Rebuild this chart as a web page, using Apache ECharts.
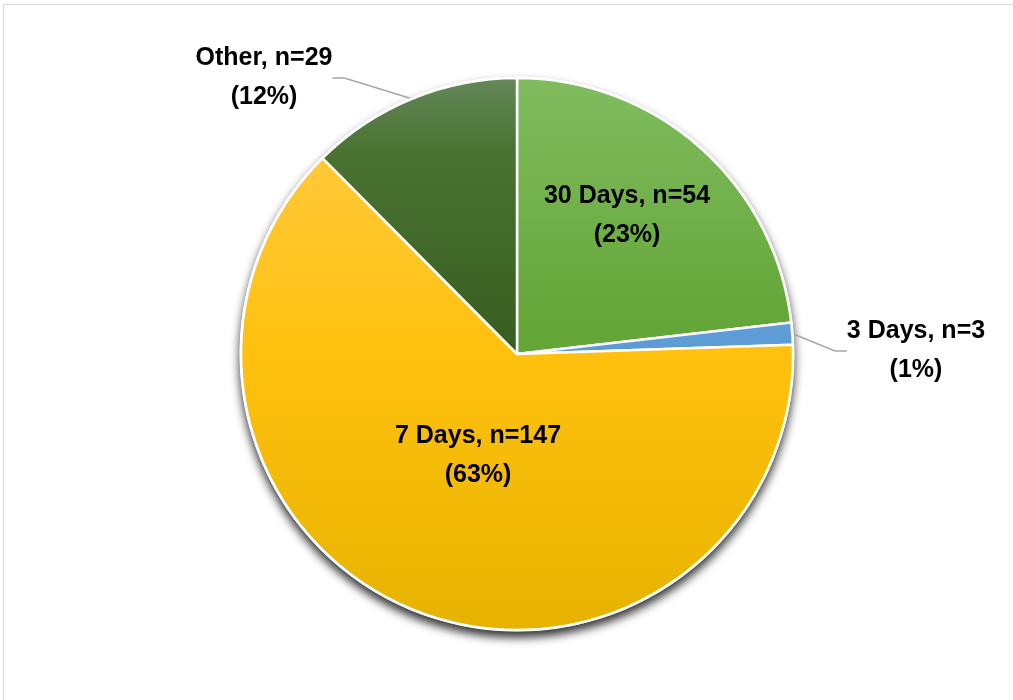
<!DOCTYPE html>
<html>
<head>
<meta charset="utf-8">
<script src="https://cdn.jsdelivr.net/npm/echarts@6/dist/echarts.min.js"></script>
<style>
html,body{margin:0;padding:0;background:#fff;overflow:hidden;}
#wrap{position:relative;width:1013px;height:700px;}
#frame{position:absolute;left:3px;top:4px;width:1030px;height:720px;border:1px solid #d9d9d9;box-sizing:border-box;}
#chart{position:absolute;left:0;top:0;width:1013px;height:700px;}
</style>
</head>
<body>
<div id="wrap"><div id="frame"></div><div id="chart"></div></div>
<script>
const categories = ['30 Days', '3 Days', '7 Days', 'Other'];
const counts = [54, 3, 147, 29];
const total = counts.reduce((a, b) => a + b, 0);

const cx = 517, cy = 354, R = 276;
function grad(stops) {
  return {
    type: 'linear', global: true,
    x: cx, y: cy - R, x2: cx, y2: cy + R,
    colorStops: stops.map(s => ({ offset: s[0], color: s[1] }))
  };
}
const fills = [
  grad([[0, '#80bc5f'], [0.45, '#64a638'], [1, '#5a9a30']]),
  grad([[0, '#7fb3e3'], [0.5, '#5b9bd5'], [1, '#3f86c9']]),
  grad([[0, '#ffcd4a'], [0.5, '#ffc10e'], [1, '#e6b300']]),
  grad([[0, '#65875a'], [0.13, '#4a7332'], [0.5, '#375d1f'], [1, '#335a1c']])
];
const insideIdx = [0, 2];
// label centre positions (layout only)
const labelPos = {0: [627, 216], 1: [916, 351], 2: [478, 456], 3: [264, 78]};

const chart = echarts.init(document.getElementById('chart'), null, { renderer: 'canvas' });
chart.setOption({
  animation: false,
  series: [
    {
      type: 'pie', silent: true, z: 1,
      center: [cx, cy], radius: R + 1.5,
      label: { show: false }, labelLine: { show: false },
      itemStyle: { color: '#fff', shadowBlur: 10, shadowColor: 'rgba(0,0,0,0.8)', shadowOffsetY: 6 },
      data: [{ value: 1, name: '' }]
    },
    {
      type: 'pie', z: 2,
      center: [cx, cy], radius: R,
      startAngle: 90, clockwise: true,
      avoidLabelOverlap: false,
      itemStyle: { borderColor: '#ffffff', borderWidth: 2.5 },
      label: {
        color: '#000', fontFamily: 'Liberation Sans', fontWeight: 'bold', fontSize: 25,
        lineHeight: 39, align: 'center',
        formatter: p => p.name + ', n=' + p.value + '\n(' + Math.round(p.value / total * 100) + '%)'
      },
      labelLine: { lineStyle: { color: '#a6a6a6', width: 1.5 }, length: 40, length2: 12 },
      labelLayout: function (p) {
        const s = labelPos[p.dataIndex];
        return { x: s[0], y: s[1], align: 'center', verticalAlign: 'middle' };
      },
      data: categories.map((c, i) => ({
        name: c, value: counts[i],
        itemStyle: { color: fills[i] },
        label: insideIdx.includes(i) ? { position: 'inside' } : { position: 'outside' },
        labelLine: { show: !insideIdx.includes(i) }
      }))
    }
  ]
});
</script>
</body>
</html>
